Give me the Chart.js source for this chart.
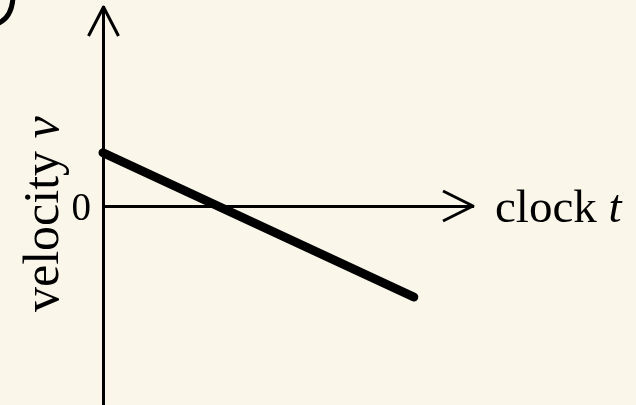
<!DOCTYPE html>
<html><head><meta charset="utf-8">
<script src="https://cdn.jsdelivr.net/npm/chart.js@4.4.0/dist/chart.umd.min.js"></script>
<style>
html,body{margin:0;padding:0;background:#FBF6EA;}
#wrap{width:636px;height:405px;position:relative;background:#FBF6EA;}
</style></head><body>
<div id="wrap"><canvas id="c"></canvas></div>
<script>
// data
const clockT = [0, 8.4];
const velocityV = [1.07, -1.83];
const yTickLabels = ['0'];
const xAxisLabel = ['clock ', 't'];
const yAxisLabel = ['velocity ', 'v'];

const SERIF = "'Liberation Serif','Times New Roman',serif";
const points = clockT.map((t, i) => ({x: t, y: velocityV[i]}));

const annot = {
  id: 'annot',
  afterDraw(chart) {
    const ctx = chart.ctx;
    const a = chart.chartArea;
    const xs = chart.scales.x, ys = chart.scales.y;
    const x0 = xs.getPixelForValue(0) + 0.5;
    const y0 = ys.getPixelForValue(0);
    ctx.save();
    ctx.strokeStyle = '#000';
    ctx.fillStyle = '#000';
    ctx.lineWidth = 3;
    ctx.lineJoin = 'round';
    ctx.lineCap = 'butt';
    // y arrow head
    ctx.beginPath();
    ctx.moveTo(x0 - 15, a.top + 29);
    ctx.lineTo(x0, a.top);
    ctx.lineTo(x0 + 15, a.top + 29);
    ctx.stroke();
    // x arrow head
    ctx.beginPath();
    ctx.moveTo(a.right - 30, y0 - 15);
    ctx.lineTo(a.right, y0);
    ctx.lineTo(a.right - 30, y0 + 15);
    ctx.stroke();
    // x label
    ctx.textBaseline = 'alphabetic';
    ctx.textAlign = 'left';
    ctx.font = '47px ' + SERIF;
    let tx = a.right + 22;
    const ty = y0 + 16;
    ctx.fillText(xAxisLabel[0], tx, ty);
    tx += ctx.measureText(xAxisLabel[0]).width;
    ctx.font = 'italic 47px ' + SERIF;
    ctx.fillText(xAxisLabel[1], tx, ty);
    // y label rotated
    ctx.save();
    ctx.translate(a.left - 45, 312);
    ctx.rotate(-Math.PI / 2);
    ctx.font = '50px ' + SERIF;
    ctx.fillText(yAxisLabel[0], 0, 0);
    const w = ctx.measureText(yAxisLabel[0]).width;
    ctx.font = 'italic 50px ' + SERIF;
    ctx.fillText(yAxisLabel[1], w, 0);
    ctx.restore();
    // cropped glyph fragment top-left
    ctx.lineWidth = 5;
    ctx.lineCap = 'butt';
    ctx.beginPath();
    ctx.moveTo(13, -3);
    ctx.bezierCurveTo(12.5, 8, 9, 18, -1, 23);
    ctx.stroke();
    ctx.restore();
  }
};

new Chart(document.getElementById('c'), {
  type: 'line',
  data: {
    datasets: [{
      data: points,
      borderColor: '#000',
      backgroundColor: '#000',
      borderWidth: 9,
      borderCapStyle: 'round',
      pointRadius: 0,
      tension: 0,
      clip: false
    }]
  },
  options: {
    responsive: true,
    maintainAspectRatio: false,
    animation: false,
    events: [],
    layout: {padding: {top: 7, right: 163, bottom: 0, left: 0}},
    plugins: {legend: {display: false}, tooltip: {enabled: false}, title: {display: false}},
    scales: {
      x: {
        type: 'linear',
        min: 0, max: 10,
        position: {y: 0},
        grid: {display: false, drawTicks: false},
        border: {display: true, color: '#000', width: 3},
        ticks: {display: false}
      },
      y: {
        type: 'linear',
        position: 'left',
        min: -4, max: 4,
        afterBuildTicks(scale) { scale.ticks = [{value: 0}]; },
        afterFit(scale) { scale.width = 103; scale.paddingTop = 0; scale.paddingBottom = 0; },
        grid: {display: false, drawTicks: false},
        border: {display: true, color: '#000', width: 3},
        ticks: {
          autoSkip: false,
          padding: 12,
          labelOffset: 4,
          color: '#000',
          font: {family: SERIF, size: 39},
          callback: (v) => (v === 0 ? yTickLabels[0] : '')
        }
      }
    }
  },
  plugins: [annot]
});
</script>
</body></html>
